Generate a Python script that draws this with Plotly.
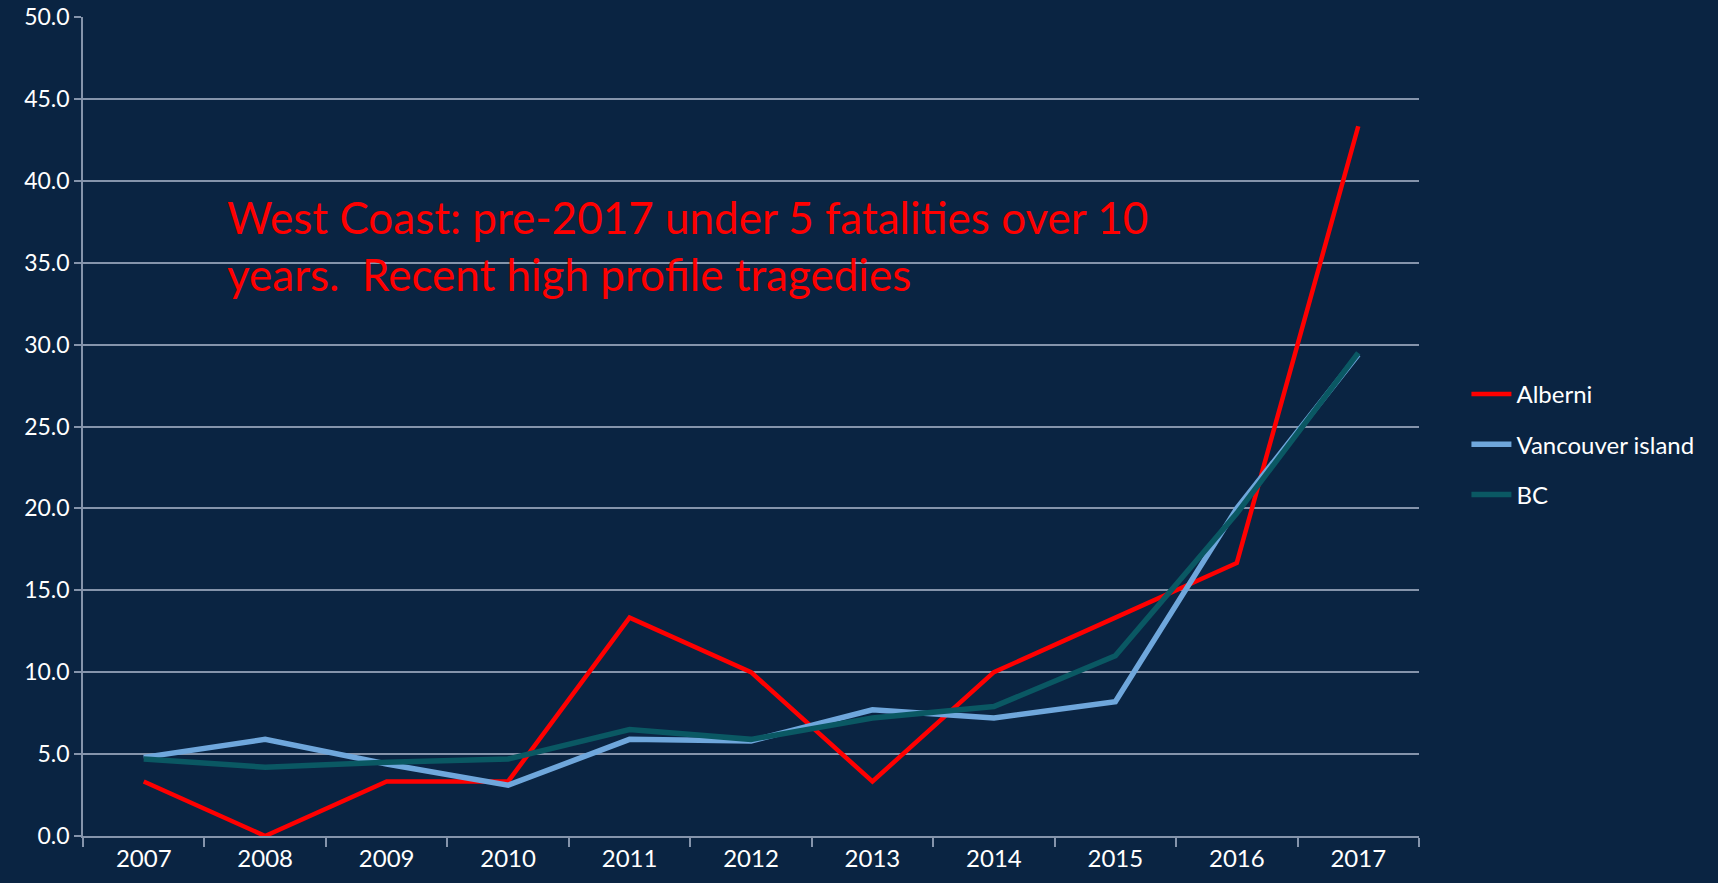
import plotly.graph_objects as go

years = ["2007", "2008", "2009", "2010", "2011", "2012", "2013", "2014", "2015", "2016", "2017"]
alberni = [3.33, 0.0, 3.33, 3.33, 13.33, 10.0, 3.33, 10.0, 13.33, 16.67, 43.33]
vancouver_island = [4.8, 5.9, 4.4, 3.1, 5.9, 5.8, 7.7, 7.2, 8.2, 20.0, 29.4]
bc = [4.7, 4.2, 4.5, 4.7, 6.5, 5.9, 7.2, 7.9, 11.0, 19.7, 29.5]

BG = "#0a2442"
GRID = "#8594ab"
FONT = "Lato"

fig = go.Figure()
fig.add_trace(go.Scatter(x=years, y=alberni, name="Alberni", mode="lines",
                         line=dict(color="#ff0000", width=4.5), legendgroup="a"))
fig.add_trace(go.Scatter(x=years, y=vancouver_island, name="Vancouver island", mode="lines",
                         line=dict(color="#6fa7dc", width=5.5), legendgroup="b"))
fig.add_trace(go.Scatter(x=years, y=bc, name="BC", mode="lines",
                         line=dict(color="#0a5863", width=5.5), legendgroup="c"))

fig.add_annotation(
    text="West Coast: pre-2017 under 5 fatalities over 10<br>years.  Recent high profile tragedies",
    xref="paper", yref="paper", x=0.106, y=0.790, xanchor="left", yanchor="top",
    align="left", showarrow=False,
    font=dict(family=FONT, size=44, color="#ff0000"),
)

fig.update_layout(
    width=1718, height=883,
    paper_bgcolor=BG, plot_bgcolor=BG,
    margin=dict(l=83, r=299, t=17, b=47, autoexpand=False),
    font=dict(family=FONT, size=23, color="#ffffff"),
    showlegend=True,
    legend=dict(x=1.0355, y=0.478, xanchor="left", yanchor="middle",
                bgcolor="rgba(0,0,0,0)", font=dict(family=FONT, size=24, color="#ffffff"),
                traceorder="grouped", tracegroupgap=16, itemwidth=40),
)
fig.update_xaxes(
    type="category", tickson="boundaries", ticks="outside", ticklen=9,
    tickcolor=GRID, tickwidth=1.5, showgrid=False, automargin=False,
    showline=True, linecolor=GRID, linewidth=1.5,
    tickfont=dict(family=FONT, size=24, color="#ffffff"),
    range=[-0.5, 10.5],
)
fig.update_yaxes(
    range=[0, 50], dtick=5, tickformat=".1f", automargin=False,
    ticklabeloverflow="allow",
    showgrid=True, gridcolor=GRID, gridwidth=1.5,
    showline=True, linecolor=GRID, linewidth=1.5,
    ticks="outside", ticklen=7, tickcolor=GRID, tickwidth=1.5,
    zeroline=False,
    tickfont=dict(family=FONT, size=23, color="#ffffff"),
)

fig.write_html(
    "out.html",
    config={"displayModeBar": False},
    post_script="document.body.style.margin='0';document.body.style.background='" + BG + "';",
)
